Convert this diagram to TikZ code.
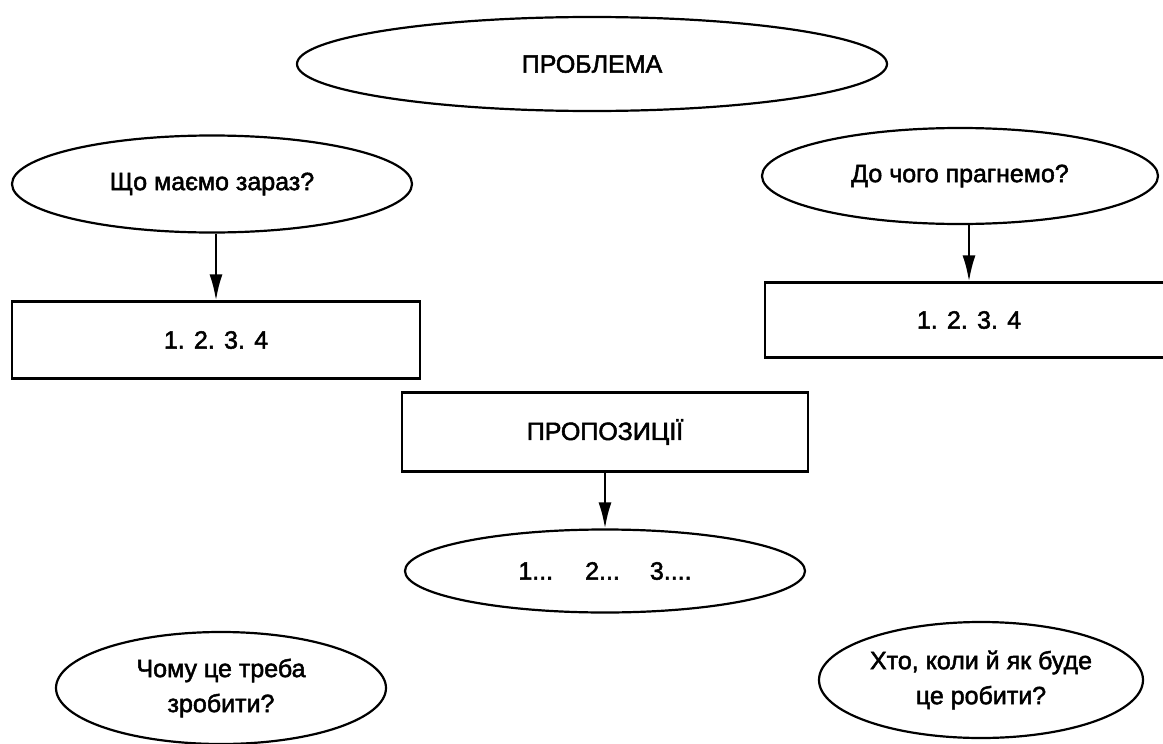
\documentclass[tikz,border=0pt]{standalone}
\usepackage{fontspec}
\setmainfont{Liberation Sans}[FakeBold=2]
\usetikzlibrary{shapes.geometric,arrows.meta}

\begin{document}
\begin{tikzpicture}[x=1pt,y=-1pt,
  oval/.style={draw,ellipse,line width=2.2pt,inner sep=0pt,align=center,
    font=\fontsize{25}{35}\selectfont},
  box/.style={draw,rectangle,line width=2.2pt,inner sep=0pt,
    font=\fontsize{25}{30}\selectfont},
  arr/.style={-{Latex[length=26pt,width=13pt]},line width=2.2pt}]
  \useasboundingbox (0,0) rectangle (1163,744);

  \node[oval,minimum width=590pt,minimum height=94pt] (problem) at (592,64) {ПРОБЛЕМА};

  \node[oval,minimum width=400pt,minimum height=97pt] (now) at (212,184) {Що маємо зараз?};
  \node[oval,minimum width=396pt,minimum height=96pt] (goal) at (960,176) {До чого прагнемо?};

  \node[box,minimum width=408pt,minimum height=77pt] (nowlist) at (216,340) {1. 2. 3. 4};
  \node[box,minimum width=408pt,minimum height=75pt] (goallist) at (969,320) {1. 2. 3. 4};

  \node[box,minimum width=406pt,minimum height=79pt] (prop) at (605,432) {ПРОПОЗИЦІЇ};
  \node[oval,minimum width=400pt,minimum height=83pt] (items) at (605,571)
    {1...\hspace{32pt}2...\hspace{30pt}3....};

  \node[oval,minimum width=330pt,minimum height=112pt] (why) at (221,688) {Чому це треба\\зробити?};
  \node[oval,minimum width=324pt,minimum height=116pt] (who) at (981,680) {Хто, коли й як буде\\це робити?};

  \draw[arr] (nowlist.north |- now.south) -- (nowlist.north);
  \draw[arr] (goallist.north |- goal.south) -- (goallist.north);
  \draw[arr] (prop) -- (items);
\end{tikzpicture}
\end{document}
